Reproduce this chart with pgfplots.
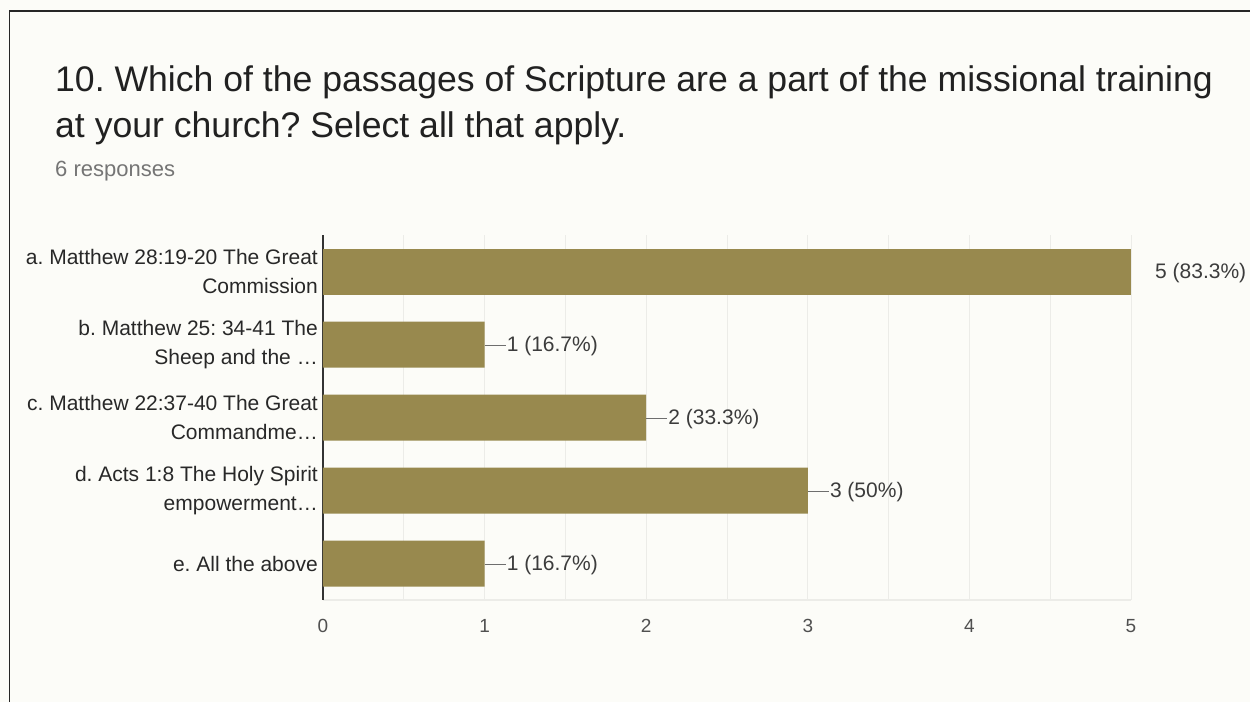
\documentclass[border=0pt]{standalone}
\usepackage{pgfplots}
\pgfplotsset{compat=1.18}
\usepackage{fontspec}
\setmainfont{Liberation Sans}
\frenchspacing

\definecolor{bgpage}{RGB}{252,252,248}
\definecolor{barolive}{RGB}{152,137,78}
\definecolor{gridgray}{RGB}{236,236,232}
\definecolor{titlegray}{RGB}{33,33,33}
\definecolor{labelgray}{RGB}{40,40,40}
\definecolor{valgray}{RGB}{60,60,60}
\definecolor{tickgray}{RGB}{80,80,80}
\definecolor{subgray}{RGB}{117,117,117}
\definecolor{leadgray}{RGB}{110,110,110}

% short leader line in front of the value labels
\newcommand{\lead}{\textcolor{leadgray}{\rule[5pt]{21pt}{1pt}}\hspace{1pt}}

\begin{document}
\begin{tikzpicture}[x=1pt,y=1pt]
\fill[bgpage] (0,0) rectangle (1250,702);
\draw[line width=1.6pt, black!85] (9.5,0) -- (9.5,691) -- (1250,691);

\node[anchor=base west, inner sep=0, text=titlegray, font=\fontsize{35.6}{42}\selectfont]
  at (55,610) {10. Which of the passages of Scripture are a part of the missional training};
\node[anchor=base west, inner sep=0, text=titlegray, font=\fontsize{35.6}{42}\selectfont]
  at (55,564) {at your church? Select all that apply.};
\node[anchor=base west, inner sep=0, text=subgray, font=\fontsize{22}{26}\selectfont]
  at (55,525) {6 responses};

\begin{axis}[
    at={(323pt,102pt)}, anchor=south west,
    scale only axis, width=808pt, height=365pt,
    xbar, bar width=46pt, bar shift=0pt,
    xmin=0, xmax=5, ymin=-0.5, ymax=4.5, y dir=reverse,
    xtick={0,1,2,3,4,5}, minor x tick num=1,
    ytick={0,1,2,3,4},
    yticklabels={{a. Matthew 28:19-20 The Great\\Commission},
                 {b. Matthew 25: 34-41 The\\Sheep and the …},
                 {c. Matthew 22:37-40 The Great\\Commandme…},
                 {d. Acts 1:8 The Holy Spirit\\empowerment…},
                 {e. All the above}},
    yticklabel style={font=\fontsize{21}{29}\selectfont, text=labelgray,
                      align=right, inner sep=0pt, xshift=-5pt},
    xticklabel style={font=\fontsize{19}{22}\selectfont, text=tickgray,
                      inner sep=0pt, yshift=-19pt},
    /pgf/number format/assume math mode=true,
    xmajorgrids, xminorgrids,
    major grid style={gridgray, line width=1pt},
    minor grid style={gridgray, line width=1pt},
    axis x line*=bottom, axis y line*=left,
    x axis line style={gridgray, line width=1.5pt, -},
    y axis line style={black!80, line width=1.3pt, -},
    major tick length=0pt, minor tick length=0pt,
    tick style={draw=none},
    point meta=explicit symbolic,
]
\addplot[fill=barolive, draw=none,
    nodes near coords={\pgfplotspointmeta},
    nodes near coords style={anchor=west, inner sep=0pt, xshift=24pt, yshift=-1.5pt,
        text=valgray, font=\fontsize{21}{25}\selectfont}]
  coordinates {(5,0) [5 (83.3\%)]};
\addplot[fill=barolive, draw=none,
    nodes near coords={\lead\pgfplotspointmeta},
    nodes near coords style={anchor=west, inner sep=0pt, yshift=-1.5pt,
        text=valgray, font=\fontsize{21}{25}\selectfont}]
  coordinates {(1,1) [1 (16.7\%)] (2,2) [2 (33.3\%)] (3,3) [3 (50\%)] (1,4) [1 (16.7\%)]};
\end{axis}

\pgfresetboundingbox
\path[use as bounding box] (0,0) rectangle (1250,702);
\end{tikzpicture}
\end{document}
